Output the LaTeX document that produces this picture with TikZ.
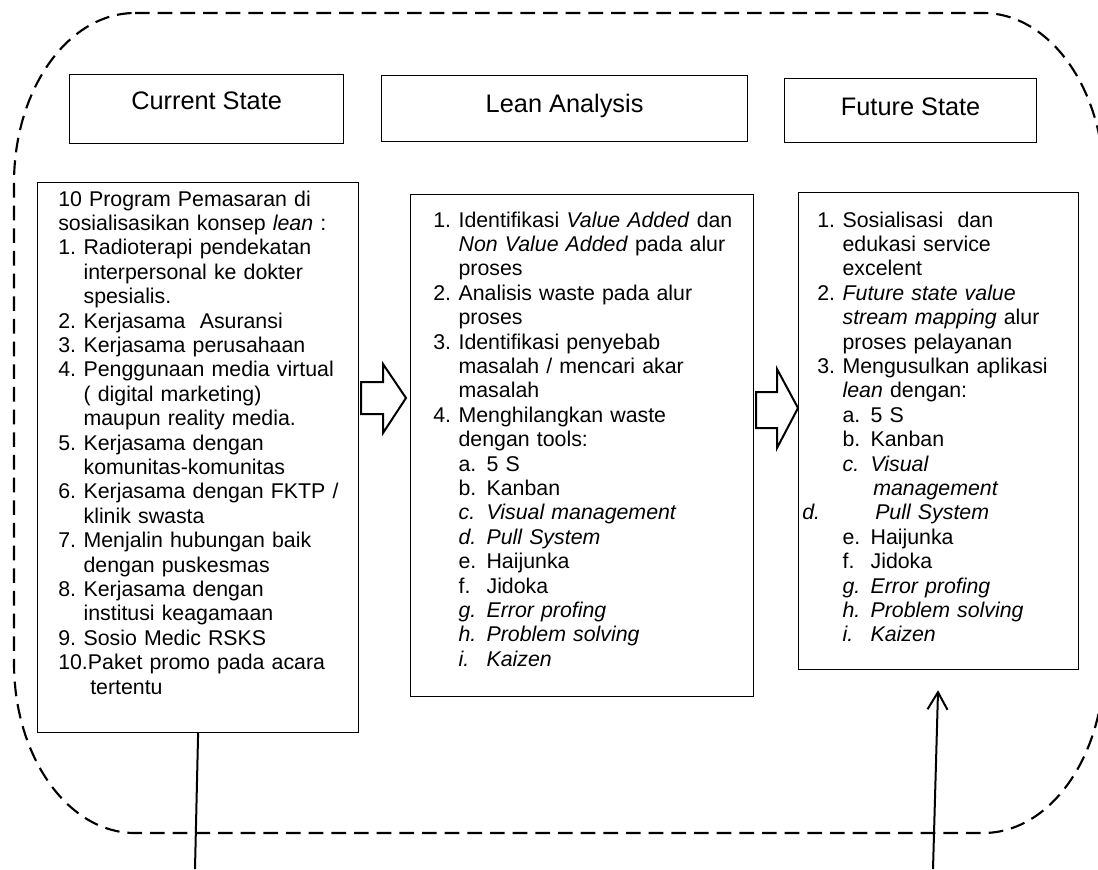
\documentclass[tikz,border=0pt]{standalone}
\usepackage{fontspec}
\setmainfont{Liberation Sans}
\usetikzlibrary{arrows.meta}

\newcommand{\itm}[1]{\makebox[19pt][l]{#1}}
\newcommand{\contd}{\hspace*{19pt}}
\newcommand{\subitm}[1]{\hspace*{19pt}\makebox[21pt][l]{#1}}

\tikzset{
  hdrbox/.style={draw, line width=0.9pt, anchor=north west, inner sep=0pt, font=\fontsize{19}{22}\selectfont},
  listbox/.style={draw, line width=0.9pt, anchor=north west, inner sep=0pt},
  listtext/.style={anchor=base west, inner sep=0pt, text width=235pt, align=left, font=\fontsize{16}{18.3}\selectfont},
  blockarrow/.style={draw, line width=1.5pt, line join=miter},
  link/.style={line width=1.5pt},
  frame/.style={line width=1.6pt, dash pattern={on 11pt off 6pt}}
}

\begin{document}
\begin{tikzpicture}[x=0.75pt,y=0.75pt,yscale=-1,xscale=1]
    \useasboundingbox (0,0) rectangle (1098,869);

    %Shape: Rounded Rect, dashed
    \draw[frame] (135,13) -- (983,13) .. controls (1049.8,13) and (1104,89.1) .. (1104,183) -- (1104,663) .. controls (1104,756.9) and (1049.8,833) .. (983,833) -- (135,833) .. controls (68.2,833) and (14,756.9) .. (14,663) -- (14,183) .. controls (14,89.1) and (68.2,13) .. (135,13) -- cycle ;

    % Header boxes
    \node[hdrbox, minimum width=205.5pt, text height=26.25pt, text depth=25.5pt] (curhdr) at (69,74) {Current State};
    \node[hdrbox, minimum width=274.5pt, text height=27.75pt, text depth=21.75pt] (leanhdr) at (381,75) {Lean Analysis};
    \node[hdrbox, minimum width=189pt, text height=27.75pt, text depth=20.25pt] (futhdr) at (784,78) {Future State};

    % Content boxes
    \node[listbox, minimum width=240.75pt, minimum height=412.5pt] (cur) at (37,182) {};
    \node[listbox, minimum width=257.25pt, minimum height=376.5pt] (lean) at (410,194) {};
    \node[listbox, minimum width=210pt, minimum height=357.75pt] (fut) at (798,192) {};

    % Text Node
    \node[listtext] (curtxt) at (58,206) {10 Program Pemasaran di\\
      sosialisasikan konsep \textit{lean} :\\
      \itm{1.}Radioterapi pendekatan\\
      \contd interpersonal ke dokter\\
      \contd spesialis.\\
      \itm{2.}Kerjasama\ \ Asuransi\\
      \itm{3.}Kerjasama perusahaan\\
      \itm{4.}Penggunaan media virtual\\
      \contd ( digital marketing)\\
      \contd maupun reality media.\\
      \itm{5.}Kerjasama dengan\\
      \contd komunitas-komunitas\\
      \itm{6.}Kerjasama dengan FKTP /\\
      \contd klinik swasta\\
      \itm{7.}Menjalin hubungan baik\\
      \contd dengan puskesmas\\
      \itm{8.}Kerjasama dengan\\
      \contd institusi keagamaan\\
      \itm{9.}Sosio Medic RSKS\\
      10.Paket promo pada acara\\
      \hspace*{24pt}tertentu};
    % Text Node
    \node[listtext] (leantxt) at (433,227) {\itm{1.}Identifikasi \textit{Value Added} dan\\
      \contd\textit{Non Value Added} pada alur\\
      \contd proses\\
      \itm{2.}Analisis waste pada alur\\
      \contd proses\\
      \itm{3.}Identifikasi penyebab\\
      \contd masalah / mencari akar\\
      \contd masalah\\
      \itm{4.}Menghilangkan waste\\
      \contd dengan tools:\\
      \subitm{a.}5 S\\
      \subitm{b.}Kanban\\
      \subitm{\textit{c.}}\textit{Visual management}\\
      \subitm{\textit{d.}}\textit{Pull System}\\
      \subitm{e.}Haijunka\\
      \subitm{f.}Jidoka\\
      \subitm{\textit{g.}}\textit{Error profing}\\
      \subitm{\textit{h.}}\textit{Problem solving}\\
      \subitm{\textit{i.}}\textit{Kaizen}};
    % Text Node
    \node[listtext] (futtxt) at (817,227) {\itm{1.}Sosialisasi\ \ dan\\
      \contd edukasi service\\
      \contd excelent\\
      \itm{2.}\textit{Future state value}\\
      \contd\textit{stream mapping} alur\\
      \contd proses pelayanan\\
      \itm{3.}Mengusulkan aplikasi\\
      \contd\textit{lean} dengan:\\
      \subitm{a.}5 S\\
      \subitm{b.}Kanban\\
      \subitm{\textit{c.}}\textit{Visual}\\
      \hspace*{42pt}\textit{management}\\
      \hspace*{-11.25pt}\makebox[54.75pt][l]{\textit{d.}}\textit{Pull System}\\
      \subitm{e.}Haijunka\\
      \subitm{f.}Jidoka\\
      \subitm{\textit{g.}}\textit{Error profing}\\
      \subitm{\textit{h.}}\textit{Problem solving}\\
      \subitm{\textit{i.}}\textit{Kaizen}};

    %Shape: Right Arrow
    \draw[blockarrow] (361,382) -- (383,382) -- (383,364) -- (406,398) -- (383,433) -- (383,414) -- (361,414) -- cycle ;
    %Shape: Right Arrow
    \draw[blockarrow] (756,392) -- (777,392) -- (777,369) -- (798,408) -- (777,448) -- (777,428) -- (756,428) -- cycle ;

    %Straight Lines
    \coordinate (curend) at (195,869);
    \coordinate (futstart) at (933,869);
    \draw[link] (cur.south) -- (curend);
    \draw[link, -{Straight Barb[length=13pt,width=15pt]}, shorten >=15pt] (futstart) -- (fut.south);

\end{tikzpicture}
\end{document}
